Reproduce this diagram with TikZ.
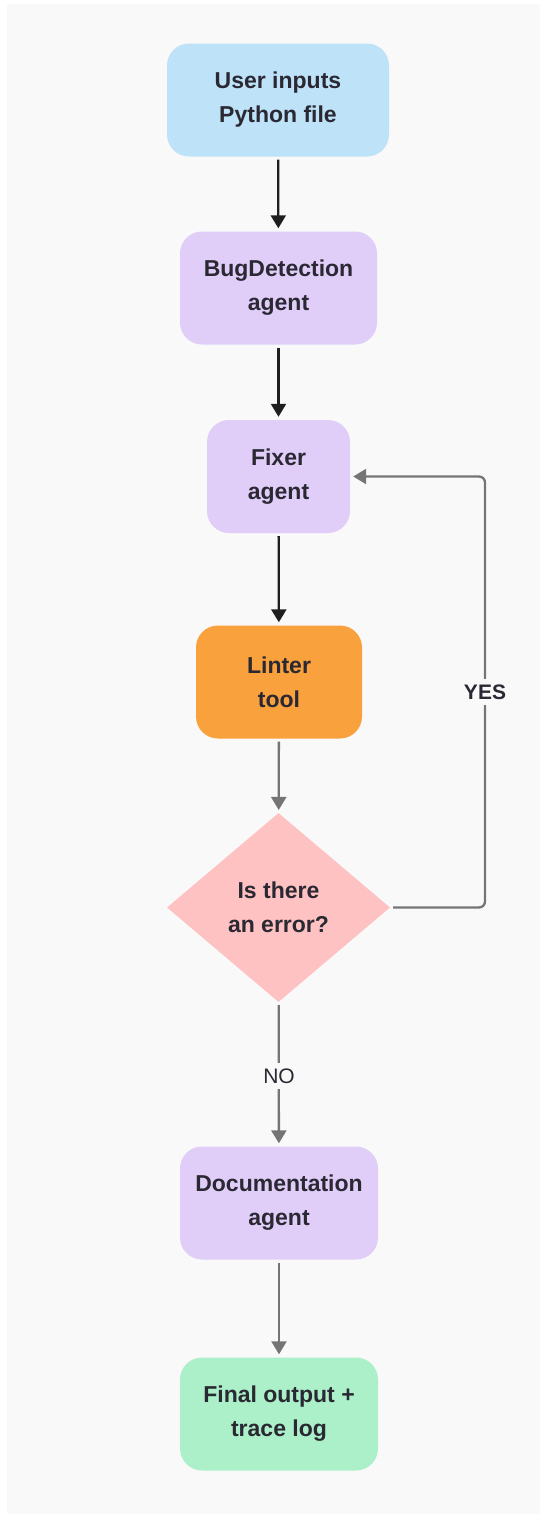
\documentclass[tikz,border=0pt]{standalone}
\usepackage{fontspec}
\setmainfont{Liberation Sans}
\usetikzlibrary{shapes.geometric, arrows.meta}

\definecolor{panelcolor}{RGB}{249,249,249}
\definecolor{inputcolor}{RGB}{190,226,248}
\definecolor{agentcolor}{RGB}{224,206,249}
\definecolor{toolcolor}{RGB}{249,161,61}
\definecolor{errorcolor}{RGB}{255,194,194}
\definecolor{outputcolor}{RGB}{171,240,201}
\definecolor{textcolor}{RGB}{42,40,50}
\definecolor{linkcolor}{RGB}{117,117,117}

\tikzset{
  box/.style={rounded corners=22pt, minimum height=113pt, align=center,
    text=textcolor, font=\fontsize{23}{34}\selectfont\bfseries},
  flow/.style={line width=2.3pt, -{Triangle[length=13pt,width=15pt]},
    shorten <=3pt, shorten >=3pt},
}

\begin{document}
\begin{tikzpicture}[x=1pt, y=-1pt]

    % Hintergrund
    \useasboundingbox (0,0) rectangle (547,1518);
    \fill[panelcolor] (7,4) rectangle (540,1514);

    % Knoten
    \node[box, fill=inputcolor, minimum width=222pt] (User) at (278,100) {User inputs\\Python file};
    \node[box, fill=agentcolor, minimum width=197pt] (Bug) at (278.5,288) {BugDetection\\agent};
    \node[box, fill=agentcolor, minimum width=143pt] (Fixer) at (278.5,476.5) {Fixer\\agent};
    \node[box, fill=toolcolor, minimum width=166pt] (Linter) at (279,682) {Linter\\tool};
    \node[diamond, fill=errorcolor, minimum width=223pt, minimum height=189pt, inner sep=0pt,
          align=center, text=textcolor, font=\fontsize{23}{34}\selectfont\bfseries]
          (Err) at (278.5,907.5) {Is there\\an error?};
    \node[box, fill=agentcolor, minimum width=198pt] (Doc) at (279,1203) {Documentation\\agent};
    \node[box, fill=outputcolor, minimum width=198pt] (Final) at (279,1414) {Final output +\\trace log};

    % Pfeile
    \draw[flow, black!88] (User) -- (Bug);
    \draw[flow, black!88] (Bug) -- (Fixer);
    \draw[flow, black!88] (Fixer) -- (Linter);
    \draw[flow, linkcolor] (Linter) -- (Err);
    \draw[flow, linkcolor] (Err) -- (Doc);
    \draw[flow, linkcolor] (Doc) -- (Final);
    \draw[flow, linkcolor, rounded corners=6pt] (Err.east) -- (485,907.5) -- (485,476.5) -- (Fixer.east);

    % Beschriftungen
    \node[fill=panelcolor, text=textcolor, inner sep=6pt, font=\fontsize{21}{24}\selectfont\bfseries] (Yes) at (485,692) {YES};
    \node[fill=panelcolor, text=textcolor, inner sep=6pt, font=\fontsize{21}{24}\selectfont] (No) at (279,1076) {NO};
\end{tikzpicture}
\end{document}
